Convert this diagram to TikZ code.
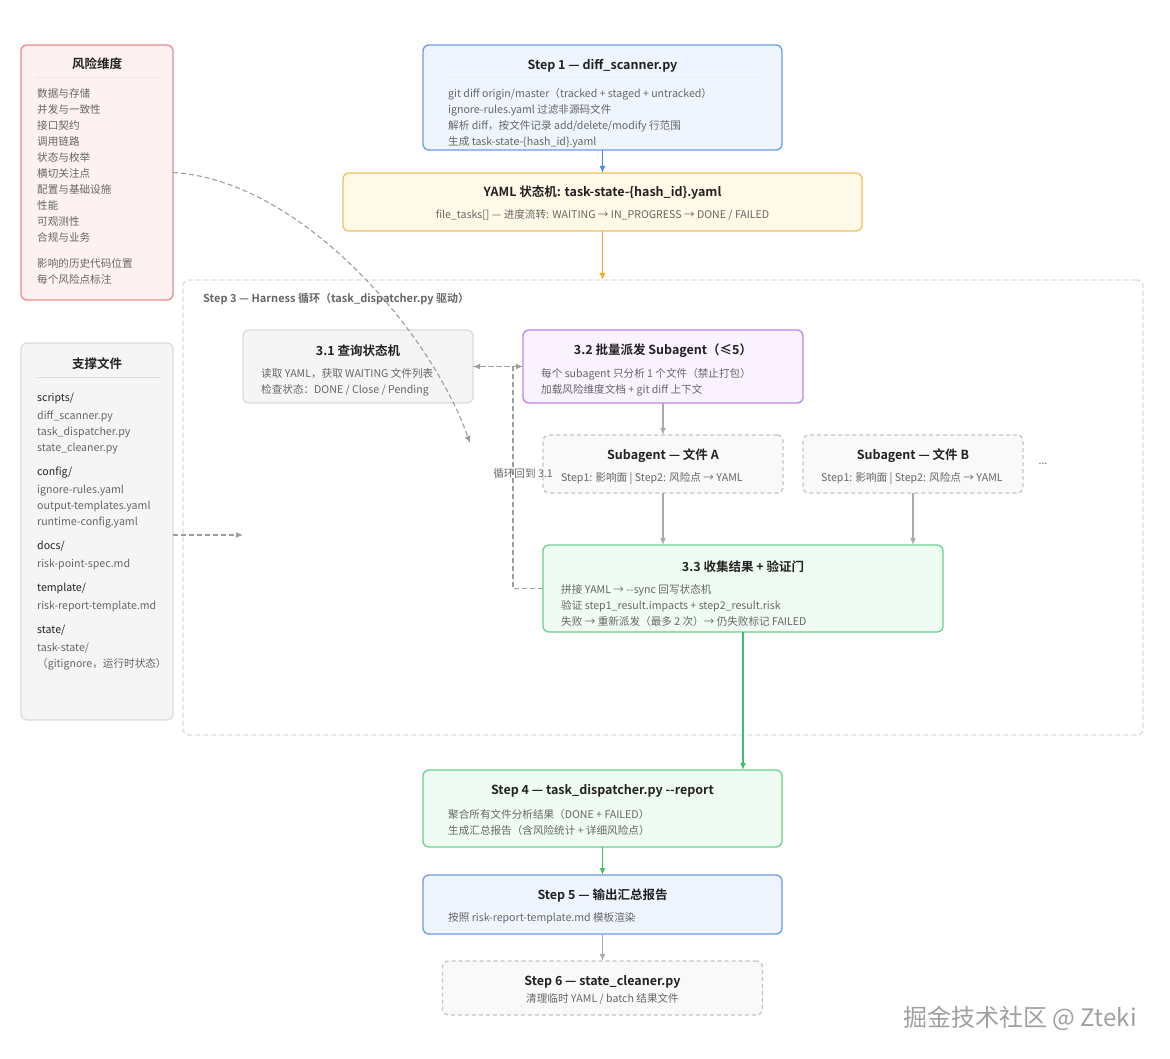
\documentclass[tikz,border=0pt]{standalone}
\usepackage{fontspec}
\setmainfont{Noto Sans CJK SC}[BoldFont={Noto Sans CJK SC Bold}]
\usepackage{tikz}
\usetikzlibrary{arrows.meta}
\definecolor{riskline}{HTML}{EC8A8A}
\definecolor{riskfill}{HTML}{FDF1F1}
\definecolor{blueline}{HTML}{6C9BE6}
\definecolor{bluefill}{HTML}{EEF5FF}
\definecolor{yelline}{HTML}{F0C060}
\definecolor{yelfill}{HTML}{FFF9E7}
\definecolor{purpline}{HTML}{B884E8}
\definecolor{purpfill}{HTML}{FAF2FF}
\definecolor{greenline}{HTML}{6CCF8E}
\definecolor{greenfill}{HTML}{EFFCF3}
\definecolor{grayline}{HTML}{DCDCDC}
\definecolor{grayfill}{HTML}{F5F5F5}
\definecolor{dashline}{HTML}{C4C4C4}
\definecolor{titlec}{HTML}{222222}
\definecolor{bodyc}{HTML}{666666}
\definecolor{arrblue}{HTML}{4A86E8}
\definecolor{arrorange}{HTML}{F5A623}
\definecolor{arrgreen}{HTML}{3CC068}
\definecolor{arrgray}{HTML}{AAAAAA}

\begin{document}
\begin{tikzpicture}[x=1pt, y=-1pt,
		box/.style={draw, rounded corners=6pt, line width=1.3pt, inner sep=0pt, outer sep=0pt},
		dbox/.style={box, draw=dashline, fill=grayfill!60, dashed, dash pattern=on 4pt off 3pt},
		title/.style={font=\fontsize{12.5}{15}\selectfont\bfseries, text=titlec, inner sep=0pt},
		body/.style={font=\fontsize{10.6}{16}\selectfont, text=bodyc, inner sep=0pt, align=left, anchor=west},
		flow/.style={-{Latex[length=7pt,width=6pt]}, line width=1.4pt},
		hint/.style={-{Latex[length=7pt,width=6pt]}, line width=1.1pt, draw=dashline!80!black, dashed, dash pattern=on 5pt off 3pt},
		sep/.style={line width=0.8pt}]
	\useasboundingbox (0,0) rectangle (1170,1059);

	\node[box, draw=riskline, fill=riskfill, minimum width=152pt, minimum height=255pt] (risk) at (97,172.5) {};
	\node[title] (riskt) at (97,63.5) {风险维度};
	\draw[sep, draw=riskline!25] (35,77) -- (160,77);
	\node[body] (riskb) at (37,186.5) {数据与存储\\并发与一致性\\接口契约\\调用链路\\状态与枚举\\横切关注点\\配置与基础设施\\性能\\可观测性\\合规与业务\\[10pt]影响的历史代码位置\\每个风险点标注};

	\node[box, draw=grayline, fill=grayfill, minimum width=152pt, minimum height=377pt] (supp) at (97,531.5) {};
	\node[title] (suppt) at (97,363.5) {支撑文件};
	\draw[sep, draw=grayline] (37,377) -- (160,377);
	\node[body] (suppb) at (37,531.5) {\textcolor{titlec}{scripts/}\\[2pt]diff\_scanner.py\\task\_dispatcher.py\\state\_cleaner.py\\[8pt]
		\textcolor{titlec}{config/}\\[2pt]ignore-rules.yaml\\output-templates.yaml\\runtime-config.yaml\\[8pt]
		\textcolor{titlec}{docs/}\\[2pt]risk-point-spec.md\\[8pt]
		\textcolor{titlec}{template/}\\[2pt]risk-report-template.md\\[8pt]
		\textcolor{titlec}{state/}\\[2pt]task-state/\\（gitignore，运行时状态）};

	\node[box, draw=blueline, fill=bluefill, minimum width=359pt, minimum height=105pt] (s1) at (602.5,97.5) {};
	\node[title] (s1t) at (602.5,65.5) {Step 1 — diff\_scanner.py};
	\draw[sep, draw=blueline!15] (445,77) -- (762,77);
	\node[body] (s1b) at (448,118) {git diff origin/master（tracked + staged + untracked）\\ignore-rules.yaml 过滤非源码文件\\解析 diff，按文件记录 add/delete/modify 行范围\\生成 task-state-\{hash\_id\}.yaml};

	\node[box, draw=yelline, fill=yelfill, minimum width=519pt, minimum height=58pt] (yaml) at (602.5,202) {};
	\node[title] (yamlt) at (602.5,192.5) {YAML 状态机: task-state-\{hash\_id\}.yaml};
	\node[body, anchor=center] (yamlb) at (602.5,215) {file\_tasks[] — 进度流转: WAITING → IN\_PROGRESS → DONE / FAILED};

	\node[box, draw=grayline, dashed, dash pattern=on 5pt off 3pt, minimum width=960pt, minimum height=455pt] (grp) at (663,507.5) {};
	\node[title, font=\fontsize{11}{14}\selectfont\bfseries, text=bodyc, anchor=west] (grpt) at (203,299.5) {Step 3 — Harness 循环（task\_dispatcher.py 驱动）};

	\node[box, draw=grayline, fill=grayfill, minimum width=230pt, minimum height=73pt] (q31) at (358,366.5) {};
	\node[title] (q31t) at (358,350.5) {3.1 查询状态机};
	\node[body] (q31b) at (261,382) {读取 YAML，获取 WAITING 文件列表\\检查状态：DONE / Close / Pending};

	\node[box, draw=purpline, fill=purpfill, minimum width=280pt, minimum height=73pt] (d32) at (663,366.5) {};
	\node[title] (d32t) at (663,350.5) {3.2 批量派发 Subagent（≤5）};
	\node[body] (d32b) at (541,382) {每个 subagent 只分析 1 个文件（禁止打包）\\加载风险维度文档 + git diff 上下文};

	\node[dbox, minimum width=240pt, minimum height=58pt] (sa) at (663,464) {};
	\node[title] (sat) at (663,455.5) {Subagent — 文件 A};
	\node[body] (sab) at (561,478) {Step1: 影响面 | Step2: 风险点 → YAML};

	\node[dbox, minimum width=220pt, minimum height=58pt] (sb) at (913,464) {};
	\node[title] (sbt) at (913,455.5) {Subagent — 文件 B};
	\node[body] (sbb) at (821,478) {Step1: 影响面 | Step2: 风险点 → YAML};
	\node[body, anchor=center] (more) at (1043,464) {...};

	\node[box, draw=greenline, fill=greenfill, minimum width=400pt, minimum height=87pt] (c33) at (743,588.5) {};
	\node[title] (c33t) at (743,566.5) {3.3 收集结果 + 验证门};
	\node[body] (c33b) at (561,606) {拼接 YAML → -{}-sync 回写状态机\\验证 step1\_result.impacts + step2\_result.risk\\失败 → 重新派发（最多 2 次）→ 仍失败标记 FAILED};

	\node[box, draw=greenline, fill=greenfill, minimum width=359pt, minimum height=77pt] (s4) at (602.5,808.5) {};
	\node[title] (s4t) at (602.5,790.5) {Step 4 — task\_dispatcher.py -{}-report};
	\node[body] (s4b) at (448,822) {聚合所有文件分析结果（DONE + FAILED）\\生成汇总报告（含风险统计 + 详细风险点）};

	\node[box, draw=blueline, fill=bluefill, minimum width=359pt, minimum height=59pt] (s5) at (602.5,904.5) {};
	\node[title] (s5t) at (602.5,895.5) {Step 5 — 输出汇总报告};
	\node[body] (s5b) at (448,918) {按照 risk-report-template.md 模板渲染};

	\node[dbox, minimum width=320pt, minimum height=54pt] (s6) at (602.5,988) {};
	\node[title] (s6t) at (602.5,981.5) {Step 6 — state\_cleaner.py};
	\node[body, anchor=center] (s6b) at (602.5,999) {清理临时 YAML / batch 结果文件};

	\node[font=\fontsize{24}{28}\selectfont, text=gray!75, inner sep=0pt] (mark) at (1020,1018) {掘金技术社区 @ Zteki};

	\coordinate (rk) at (470,443);
	\coordinate (sp) at (243,535);

	\draw[flow, arrblue] (s1) -- (yaml);
	\draw[flow, arrorange] (yaml.south) -- (yaml.south |- grp.north);
	\draw[hint] (q31.east) -- (d32.west);
	\draw[flow, arrgray] (d32) -- (sa);
	\draw[flow, arrgray] (sa.south) -- (sa.south |- c33.north);
	\draw[flow, arrgray] (sb.south) -- (sb.south |- c33.north);
	\draw[hint] (c33.west) -- ++(-30,0) |- (q31.east);
	\node[body, anchor=center] (loopl) at (523,474) {循环回到 3.1};
	\draw[flow, arrgreen] (c33.south) -- (c33.south |- s4.north);
	\draw[flow, arrgreen] (s4) -- (s5);
	\draw[flow, arrgray] (s5) -- (s6);
	\draw[hint] (risk.east) .. controls (300,180) and (430,330) .. (rk);
	\draw[hint] (supp.east |- sp) -- (sp);
\end{tikzpicture}
\end{document}
